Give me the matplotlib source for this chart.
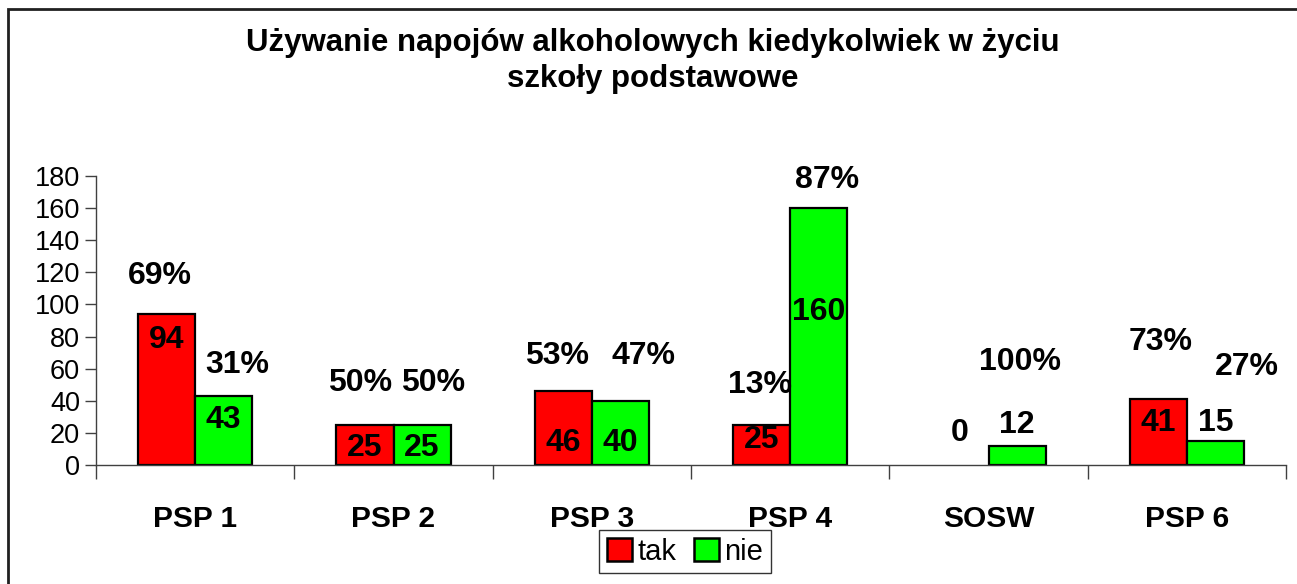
import matplotlib.pyplot as plt
from matplotlib.patches import Rectangle, Patch
import numpy as np

plt.rcParams['font.family'] = ['Liberation Sans', 'DejaVu Sans']

# data
schools = ['PSP 1', 'PSP 2', 'PSP 3', 'PSP 4', 'SOSW', 'PSP 6']
tak = [94, 25, 46, 25, 0, 41]
nie = [43, 25, 40, 160, 12, 15]
tak_pct = ['69%', '50%', '53%', '13%', '', '73%']
nie_pct = ['31%', '50%', '47%', '87%', '100%', '27%']

# label placement (data units)
tak_pct_y = [118, 51, 68, 50, 0, 76.6]
nie_pct_y = [62, 51, 68, 177.5, 64, 61]
tak_pct_dx = [-0.033, -0.025, -0.03, -0.007, 0, 0.01]
nie_pct_dx = [0.068, 0.055, 0.116, 0.043, 0.017, 0.161]
tak_val_y = [78, 10.6, 13.7, 15.6, 20, 26]
nie_val_y = [28, 10.6, 13.7, 95, 25, 26]

fig = plt.figure(figsize=(12.97, 5.84), dpi=100)
ax = fig.add_axes([96 / 1297, 1 - 465 / 584, (1286 - 96) / 1297, (465 - 176) / 584])

x = np.arange(len(schools))
w = 0.2875
ax.bar(x - w / 2, tak, w, color='#FF0000', edgecolor='black',
       linewidth=[1.6 if v else 0 for v in tak], label='tak')
ax.bar(x + w / 2, nie, w, color='#00FF00', edgecolor='black',
       linewidth=[1.6 if v else 0 for v in nie], label='nie')

fs = 23
for i in range(len(schools)):
    ax.text(x[i] - w / 2, tak_val_y[i], str(tak[i]), ha='center', va='center',
            fontsize=fs, fontweight='bold')
    ax.text(x[i] + w / 2, nie_val_y[i], str(nie[i]), ha='center', va='center',
            fontsize=fs, fontweight='bold')
    if tak_pct[i]:
        ax.text(x[i] - w / 2 + tak_pct_dx[i], tak_pct_y[i], tak_pct[i], ha='center',
                va='center', fontsize=fs, fontweight='bold')
    ax.text(x[i] + w / 2 + nie_pct_dx[i], nie_pct_y[i], nie_pct[i], ha='center',
            va='center', fontsize=fs, fontweight='bold')

ax.set_xlim(-0.5, len(schools) - 0.5)
ax.set_ylim(0, 180)
ax.set_yticks(range(0, 181, 20))
ax.tick_params(axis='y', direction='out', length=8, width=1, color='#404040',
               labelsize=19.5, pad=3.5)
ax.set_xticks(x)
ax.set_xticklabels(schools, fontsize=21.5, fontweight='bold')
ax.set_xticks(np.arange(-0.5, len(schools), 1), minor=True)
ax.tick_params(axis='x', which='major', length=0, pad=29)
ax.tick_params(axis='x', which='minor', direction='out', length=10, width=1,
               color='#404040')
for s in ['top', 'right']:
    ax.spines[s].set_visible(False)
for s in ['left', 'bottom']:
    ax.spines[s].set_color('#404040')
    ax.spines[s].set_linewidth(1)

fig.text(0.503, 1 - 61 / 584, 'Używanie napojów alkoholowych kiedykolwiek w życiu\nszkoły podstawowe',
         ha='center', va='center', fontsize=22.5, fontweight='bold', linespacing=1.22)

handles = [Patch(facecolor='#FF0000', edgecolor='black', linewidth=1.8),
           Patch(facecolor='#00FF00', edgecolor='black', linewidth=1.8)]
fig.legend(handles, ['tak', 'nie'], loc='center', bbox_to_anchor=(685 / 1297, 1 - 551.5 / 584),
           ncol=2, fontsize=21, frameon=True, fancybox=False, edgecolor='black',
           handlelength=0.85, handleheight=0.85, handletextpad=0.2, columnspacing=0.6,
           borderpad=0.25)

# outer frame of the chart area
fig.patches.append(Rectangle((8 / 1297, -0.1), 1.2, 1 - 9 / 584 + 0.1,
                             transform=fig.transFigure, fill=False,
                             edgecolor='#202020', linewidth=2))

fig.savefig('out.png', dpi=100)
